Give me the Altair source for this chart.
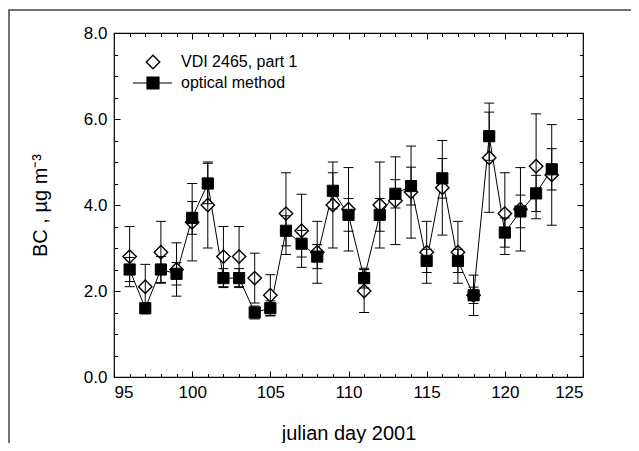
import altair as alt
import pandas as pd

# ---- data ----
days = list(range(96, 124))
vdi = [2.8, 2.1, 2.9, 2.5, 3.6, 4.0, 2.8, 2.8, 2.3, 1.9, 3.8, 3.4, 2.9, 4.0,
       3.9, 2.0, 4.0, 4.1, 4.3, 2.9, 4.4, 2.9, 1.9, 5.1, 3.8, 3.9, 4.9, 4.7]
vdi_err = [0.7, 0.52, 0.72, 0.62, 0.9, 1.0, 0.7, 0.7, 0.58, 0.48, 0.95, 0.85, 0.72, 1.0,
           0.97, 0.5, 1.0, 1.02, 1.07, 0.72, 1.1, 0.72, 0.47, 1.27, 0.95, 0.97, 1.22, 1.17]
opt = [2.5, 1.6, 2.5, 2.4, 3.7, 4.5, 2.3, 2.3, 1.5, 1.6, 3.4, 3.1, 2.8, 4.33,
       3.77, 2.3, 3.77, 4.26, 4.44, 2.7, 4.62, 2.7, 1.9, 5.6, 3.36, 3.85, 4.27, 4.83]
opt_err = [0.28, 0.13, 0.3, 0.26, 0.38, 0.47, 0.22, 0.22, 0.15, 0.17, 0.35, 0.31, 0.28, 0.42,
           0.38, 0.23, 0.38, 0.33, 0.44, 0.27, 0.46, 0.27, 0.19, 0.56, 0.34, 0.38, 0.42, 0.48]
x_major = [95, 100, 105, 110, 115, 120, 125]
x_minor = list(range(95, 126))
y_major = [0, 2, 4, 6, 8]
y_minor = [i * 0.5 for i in range(17)]
legend_labels = ["VDI 2465, part 1", "optical method"]

df = pd.DataFrame({"day": days, "vdi": vdi, "opt": opt})
df["vdi_lo"] = [v - e for v, e in zip(vdi, vdi_err)]
df["vdi_hi"] = [v + e for v, e in zip(vdi, vdi_err)]
df["opt_lo"] = [v - e for v, e in zip(opt, opt_err)]
df["opt_hi"] = [v + e for v, e in zip(opt, opt_err)]

W, H = 469, 344
FONT = "Liberation Sans"
xs = alt.Scale(domain=[95, 125], nice=False, zero=False)
ys = alt.Scale(domain=[0, 8], nice=False, zero=False)


def tick_axis(orient, values, size):
    return alt.Axis(orient=orient, values=values, tickSize=size, offset=-size,
                    labels=False, domain=False, grid=False, title=None,
                    tickColor="black", tickWidth=1)


x_label_axis = alt.Axis(orient="bottom", values=x_major, ticks=False, domain=False,
                        grid=False, format="d", labelPadding=7, labelFontSize=17,
                        labelFont=FONT, labelColor="black", title="julian day 2001",
                        titleFont=FONT, titleFontSize=20, titleFontWeight="normal",
                        titleColor="black", titlePadding=23)
y_label_axis = alt.Axis(orient="left", values=y_major, ticks=False, domain=False,
                        grid=False, format=".1f", labelPadding=7, labelFontSize=17,
                        labelFont=FONT, labelColor="black", title="BC , µg m⁻³",
                        titleFont=FONT, titleFontSize=20, titleFontWeight="normal",
                        titleColor="black", titlePadding=33)

base = alt.Chart(df)

line = base.mark_line(color="black", strokeWidth=1).encode(
    x=alt.X("day:Q", scale=xs, axis=x_label_axis),
    y=alt.Y("opt:Q", scale=ys, axis=y_label_axis),
)
diamonds = base.mark_point(shape="diamond", size=180, filled=True, fill="white",
                           stroke="black", strokeWidth=1.4, opacity=1).encode(
    x=alt.X("day:Q", scale=xs, axis=tick_axis("bottom", x_major, 6)),
    y=alt.Y("vdi:Q", scale=ys, axis=tick_axis("left", y_major, 6)),
)
squares = base.mark_point(shape="square", size=125, filled=True, fill="black",
                          stroke="black", strokeWidth=1, opacity=1).encode(
    x=alt.X("day:Q", scale=xs, axis=tick_axis("bottom", x_minor, 3.5)),
    y=alt.Y("opt:Q", scale=ys, axis=tick_axis("left", y_minor, 3.5)),
)
vdi_rule = base.mark_rule(color="black", strokeWidth=1).encode(
    x=alt.X("day:Q", scale=xs, axis=tick_axis("top", x_major, 6)),
    y=alt.Y("vdi_lo:Q", scale=ys, axis=tick_axis("right", y_major, 6)),
    y2="vdi_hi:Q",
)
opt_rule = base.mark_rule(color="black", strokeWidth=1).encode(
    x=alt.X("day:Q", scale=xs, axis=tick_axis("top", x_minor, 3.5)),
    y=alt.Y("opt_lo:Q", scale=ys, axis=tick_axis("right", y_minor, 3.5)),
    y2="opt_hi:Q",
)


def caps(field):
    return base.mark_tick(orient="horizontal", size=10, thickness=1, color="black",
                          opacity=1).encode(
        x=alt.X("day:Q", scale=xs, axis=None),
        y=alt.Y(f"{field}:Q", scale=ys, axis=None),
    )


cap_layers = [caps(f) for f in ["vdi_lo", "vdi_hi", "opt_lo", "opt_hi"]]

# ---- manual legend (pixel placement inside the plot) ----
leg1 = pd.DataFrame({"label": [legend_labels[0]]})
leg2 = pd.DataFrame({"label": [legend_labels[1]]})
leg_diamond = alt.Chart(leg1).mark_point(shape="diamond", size=180, filled=True,
                                         fill="white", stroke="black",
                                         strokeWidth=1.4, opacity=1).encode(
    x=alt.value(39), y=alt.value(29))
leg_text1 = alt.Chart(leg1).mark_text(align="left", baseline="middle", font=FONT,
                                      fontSize=16, color="black").encode(
    x=alt.value(67), y=alt.value(29), text="label:N")
leg_line = alt.Chart(leg2).mark_rule(color="black", strokeWidth=1).encode(
    x=alt.value(19), x2=alt.value(58), y=alt.value(50))
leg_square = alt.Chart(leg2).mark_point(shape="square", size=125, filled=True,
                                        fill="black", stroke="black", opacity=1).encode(
    x=alt.value(39), y=alt.value(50))
leg_text2 = alt.Chart(leg2).mark_text(align="left", baseline="middle", font=FONT,
                                      fontSize=16, color="black").encode(
    x=alt.value(67), y=alt.value(50), text="label:N")

# outer figure frame
frame = alt.Chart(leg1).mark_rect(fill=None, stroke="#444", strokeWidth=1.5).encode(
    x=alt.value(-105), x2=alt.value(W + 200), y=alt.value(-23), y2=alt.value(H + 200))

chart = alt.layer(
    line, diamonds, squares, vdi_rule, opt_rule, *cap_layers,
    leg_diamond, leg_text1, leg_line, leg_square, leg_text2, frame,
).resolve_axis(x="independent", y="independent").properties(
    width=W, height=H,
    autosize=alt.AutoSizeParams(type="none"),
    padding={"left": 106, "top": 25, "right": 48, "bottom": 66},
    background="white",
).configure_view(stroke="black", strokeWidth=1.2)

chart.save("out.html", embed_options={"renderer": "svg", "actions": False})
